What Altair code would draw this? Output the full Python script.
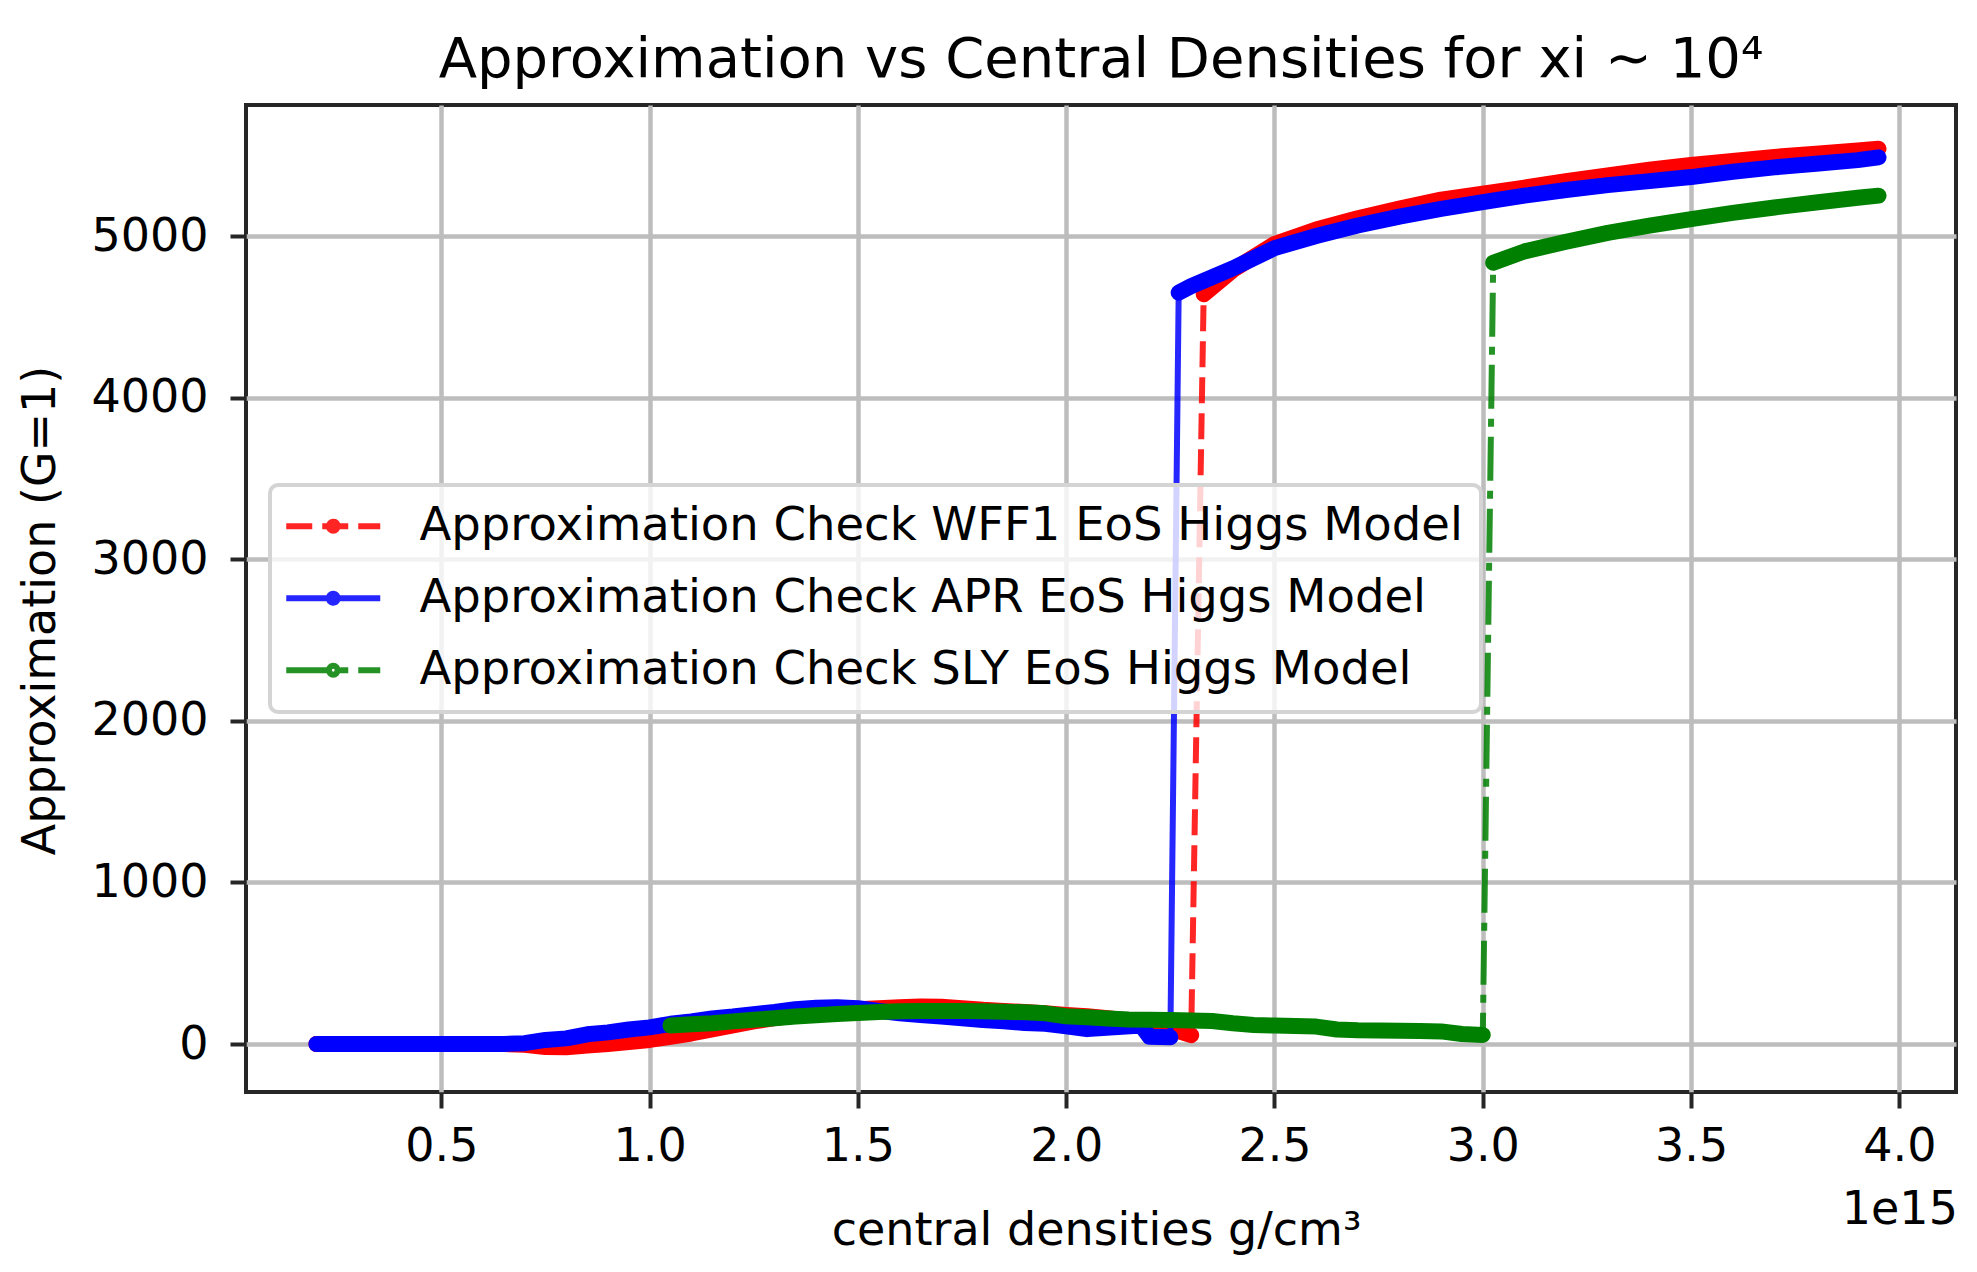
import altair as alt
import pandas as pd

series_names = [
    "Approximation Check WFF1 EoS Higgs Model",
    "Approximation Check APR EoS Higgs Model",
    "Approximation Check SLY EoS Higgs Model",
]
series_colors = ["#ff0000", "#0000ff", "#008000"]
series_dashes = [[26, 10], [1, 0], [44, 10, 8, 10]]

x_ticks = [0.5, 1.0, 1.5, 2.0, 2.5, 3.0, 3.5, 4.0]
y_ticks = [0, 1000, 2000, 3000, 4000, 5000]

# WFF1 (red)
wff1_low_x = [0.20, 0.25, 0.30, 0.35, 0.40, 0.45, 0.50, 0.55, 0.60, 0.65, 0.70, 0.75, 0.80, 0.85,
              0.90, 0.95, 1.00, 1.05, 1.10, 1.15, 1.20, 1.25, 1.30, 1.35, 1.40, 1.45, 1.50, 1.55,
              1.60, 1.65, 1.70, 1.75, 1.80, 1.85, 1.90, 1.95, 2.00, 2.05, 2.10, 2.15, 2.20, 2.25, 2.30]
wff1_low_y = [0, 0, 0, 0, 0, 0, 0, 0, 0, 0, -5, -18, -20, -10,
              0, 12, 25, 45, 65, 90, 115, 140, 160, 178, 192, 205, 215, 222,
              228, 232, 230, 222, 212, 205, 198, 190, 180, 172, 160, 146, 128, 95, 55]
wff1_high_x = [2.33, 2.40, 2.50, 2.60, 2.70, 2.80, 2.90, 3.00, 3.10, 3.20, 3.30, 3.40, 3.50, 3.60,
               3.70, 3.80, 3.90, 3.95]
wff1_high_y = [4640, 4790, 4950, 5040, 5110, 5170, 5225, 5262, 5300, 5340, 5375, 5410, 5440, 5465,
               5490, 5510, 5530, 5540]

# APR (blue)
apr_low_x = [0.20, 0.25, 0.30, 0.35, 0.40, 0.45, 0.50, 0.55, 0.60, 0.65, 0.70, 0.75, 0.80, 0.85,
             0.90, 0.95, 1.00, 1.05, 1.10, 1.15, 1.20, 1.25, 1.30, 1.35, 1.40, 1.45, 1.50, 1.55,
             1.60, 1.65, 1.70, 1.75, 1.80, 1.85, 1.90, 1.95, 2.00, 2.05, 2.18, 2.20, 2.25]
apr_low_y = [0, 0, 0, 0, 0, 0, 0, 0, 0, 0, 5, 25, 35, 60,
             72, 90, 103, 125, 140, 158, 170, 185, 198, 215, 225, 228, 222, 205,
             190, 180, 170, 160, 148, 140, 130, 125, 110, 92, 115, 45, 42]
apr_high_x = [2.27, 2.30, 2.40, 2.50, 2.60, 2.70, 2.80, 2.90, 3.00, 3.10, 3.20, 3.30, 3.40, 3.50,
              3.60, 3.70, 3.80, 3.90, 3.95]
apr_high_y = [4650, 4690, 4800, 4925, 5000, 5065, 5120, 5168, 5210, 5250, 5285, 5315, 5340, 5365,
              5398, 5425, 5447, 5470, 5487]

# SLY (green)
sly_low_x = [1.05, 1.10, 1.15, 1.20, 1.25, 1.30, 1.35, 1.40, 1.45, 1.50, 1.55, 1.60, 1.65, 1.70,
             1.75, 1.80, 1.85, 1.90, 1.95, 2.00, 2.05, 2.10, 2.15, 2.20, 2.25, 2.30, 2.35, 2.40,
             2.45, 2.50, 2.55, 2.60, 2.65, 2.70, 2.75, 2.80, 2.85, 2.90, 2.95, 3.00]
sly_low_y = [115, 122, 128, 140, 150, 160, 170, 178, 185, 192, 198, 202, 204, 205,
             205, 203, 200, 196, 190, 172, 165, 158, 152, 150, 148, 146, 142, 128,
             118, 114, 112, 108, 90, 85, 84, 82, 80, 78, 62, 56]
sly_high_x = [3.025, 3.10, 3.20, 3.30, 3.40, 3.50, 3.60, 3.70, 3.80, 3.90, 3.95]
sly_high_y = [4835, 4905, 4965, 5020, 5065, 5105, 5143, 5177, 5208, 5237, 5250]

parts = [
    (series_names[0], [("low", wff1_low_x, wff1_low_y), ("high", wff1_high_x, wff1_high_y)]),
    (series_names[1], [("low", apr_low_x, apr_low_y), ("high", apr_high_x, apr_high_y)]),
    (series_names[2], [("low", sly_low_x, sly_low_y), ("high", sly_high_x, sly_high_y)]),
]
rows = []
for name, branches in parts:
    k = 0
    for branch, xs, ys in branches:
        for xv, yv in zip(xs, ys):
            rows.append({"series": name, "branch": branch, "x": xv, "y": yv, "order": k})
            k += 1
df = pd.DataFrame(rows)

FONT = "DejaVu Sans"

x_enc = alt.X(
    "x:Q",
    scale=alt.Scale(domain=[0.031, 4.136], nice=False, zero=False),
    axis=alt.Axis(
        values=x_ticks,
        labelExpr="datum.value == 4 ? ['4.0', '1e15'] : format(datum.value, '.1f')",
        labelFont=FONT, labelFontSize=46, labelColor="black", labelPadding=16,
        labelLineHeight=63, labelFlush=False, labelOverlap=False,
        tickSize=16, tickWidth=4, tickColor="#262626", domain=False,
        grid=True, gridColor="#bdbdbd", gridWidth=4.5,
        title="central densities g/cm³", titleFont=FONT, titleFontSize=46,
        titleFontWeight="normal", titleColor="black",
        titleX=850, titleY=152, titleAlign="center", titleBaseline="alphabetic",
    ),
)
y_enc = alt.Y(
    "y:Q",
    scale=alt.Scale(domain=[-297, 5811], nice=False, zero=False),
    axis=alt.Axis(
        values=y_ticks, format="d",
        labelFont=FONT, labelFontSize=46, labelColor="black", labelPadding=22,
        labelFlush=False, labelOverlap=False,
        tickSize=16, tickWidth=4, tickColor="#262626", domain=False,
        grid=True, gridColor="#bdbdbd", gridWidth=4.5,
        title="Approximation (G=1)", titleFont=FONT, titleFontSize=46,
        titleFontWeight="normal", titleColor="black",
        titleX=-206, titleY=505, titleAlign="center", titleBaseline="middle", titleAngle=270,
    ),
)

r = 0.22
loop = f"A{r},{r} 0 1 1 {-r},0 A{r},{r} 0 1 1 {r},0 "
symbol_path = f"M{r},0 " + loop * 3 + "M-2.35,0 L2.35,0"

legend = alt.Legend(
    title=None, orient="none", legendX=24, legendY=380,
    fillColor="rgba(255,255,255,0.8)", strokeColor="#d4d4d4", cornerRadius=8,
    padding=18, rowPadding=25,
    labelFont=FONT, labelFontSize=46.5, labelColor="black", labelLimit=3000,
    symbolType=symbol_path, symbolSize=1600, symbolStrokeWidth=6,
    symbolOffset=22, labelOffset=63,
)
color_enc = alt.Color("series:N", scale=alt.Scale(domain=series_names, range=series_colors), legend=legend)
dash_enc = alt.StrokeDash("series:N", scale=alt.Scale(domain=series_names, range=series_dashes), legend=legend)

layers = []
for name, col in zip(series_names, series_colors):
    thin = (
        alt.Chart(df)
        .transform_filter(alt.datum.series == name)
        .mark_line(strokeWidth=6, opacity=0.85)
        .encode(x=x_enc, y=y_enc, color=color_enc, strokeDash=dash_enc, order="order:Q")
    )
    band = (
        alt.Chart(df)
        .transform_filter(alt.datum.series == name)
        .mark_line(color=col, strokeWidth=16, strokeCap="round", strokeJoin="round")
        .encode(x=x_enc, y=y_enc, detail="branch:N", order="order:Q")
    )
    layers += [thin, band]

chart = (
    alt.layer(*layers)
    .properties(
        width=1710, height=987,
        autosize="none",
        padding={"left": 238, "top": 97, "right": 13, "bottom": 172},
        title=alt.TitleParams(
            text="Approximation vs Central Densities for xi  ∼ 10⁴",
            font=FONT, fontSize=56, fontWeight="normal", color="black",
            anchor="middle", frame="group", offset=28, baseline="alphabetic", dy=56,
        ),
    )
    .configure(font=FONT)
    .configure_view(stroke="#262626", strokeWidth=4)
    .configure_legend(strokeWidth=4)
)

chart.save("out.html", embed_options={"renderer": "svg", "actions": False})
